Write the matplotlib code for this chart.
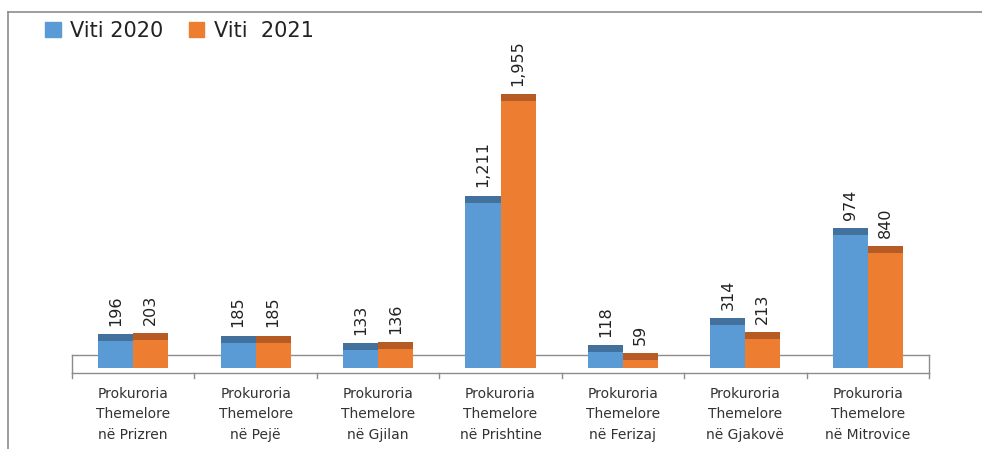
import matplotlib
matplotlib.use("Agg")
import matplotlib.pyplot as plt
from matplotlib.lines import Line2D
from matplotlib.patches import Patch
import numpy as np

categories = ["Prokuroria\nThemelore\nnë Prizren", "Prokuroria\nThemelore\nnë Pejë",
              "Prokuroria\nThemelore\nnë Gjilan", "Prokuroria\nThemelore\nnë Prishtine",
              "Prokuroria\nThemelore\nnë Ferizaj", "Prokuroria\nThemelore\nnë Gjakovë",
              "Prokuroria\nThemelore\nnë Mitrovice"]
viti_2020 = [196, 185, 133, 1211, 118, 314, 974]
viti_2021 = [203, 185, 136, 1955, 59, 213, 840]
series_names = ["Viti 2020", "Viti  2021"]

W, H = 982, 449
fig = plt.figure(figsize=(W / 100, H / 100), dpi=100)

# axes placement in pixels
x0, x1 = 72, 929
ybase = 368
ppu = 0.1364  # pixels per unit
ymax = 2400
ax_h = ymax * ppu
ax = fig.add_axes([x0 / W, (H - ybase) / H, (x1 - x0) / W, ax_h / H])
ax.set_xlim(-0.5, 6.5)
ax.set_ylim(0, ymax)
for s in ax.spines.values():
    s.set_visible(False)
ax.set_yticks([])

def px(p):
    return p / ppu

blue, blue_cap = "#5B9BD5", "#41719C"
orange, orange_cap = "#ED7D31", "#B65B24"
grey = "#8C8C8C"

x = np.arange(len(categories))
w = 0.286
cap = px(7)

# floor
ftop, fbot = px(13), px(-5)
ax.plot([-0.5, 6.5], [ftop, ftop], color=grey, lw=1, clip_on=False, zorder=1)
ax.plot([-0.5, 6.5], [fbot, fbot], color=grey, lw=1, clip_on=False, zorder=1)
ax.plot([-0.5, -0.5], [fbot, ftop], color=grey, lw=1, clip_on=False, zorder=1)
ax.plot([6.5, 6.5], [fbot, ftop], color=grey, lw=1, clip_on=False, zorder=1)
for b in np.arange(-0.5, 7, 1):
    ax.plot([b, b], [fbot, px(-10)], color=grey, lw=1, clip_on=False, zorder=1)

for vals, xs, c, cc in [(viti_2020, x - w / 2, blue, blue_cap), (viti_2021, x + w / 2, orange, orange_cap)]:
    ax.bar(xs, vals, w, color=c, zorder=3, edgecolor="none")
    ax.bar(xs, [cap] * len(vals), w, bottom=vals, color=cc, zorder=3, edgecolor="none")
    for xi, v in zip(xs, vals):
        ax.annotate(f"{v:,}", (xi, v + cap), xytext=(0, 6), textcoords="offset points",
                    rotation=90, ha="center", va="bottom", fontsize=11.5, color="#222222")

ax.set_xticks(x)
ax.set_xticklabels(categories, fontsize=10, linespacing=1.55, color="#333333")
ax.tick_params(axis="x", length=0, pad=14)

handles = [Patch(color=blue), Patch(color=orange)]
fig.legend(handles, series_names, loc="center left", bbox_to_anchor=(0.027, 0.931),
           ncol=2, frameon=False, fontsize=15, handlelength=0.75, handleheight=0.75,
           handletextpad=0.45, columnspacing=1.2, labelcolor="#222222")

# outer chart border (left and top)
fig.add_artist(Line2D([8 / W, 8 / W], [0, (H - 12) / H], color=grey, lw=1.2, transform=fig.transFigure))
fig.add_artist(Line2D([8 / W, 1], [(H - 12) / H, (H - 12) / H], color=grey, lw=1.2, transform=fig.transFigure))

fig.savefig("out.png", dpi=100, facecolor="white")
